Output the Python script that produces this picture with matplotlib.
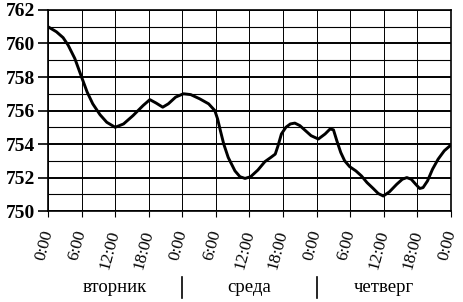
import matplotlib
matplotlib.use("Agg")
import matplotlib.pyplot as plt

# hours since tuesday 0:00 and pressure, mm Hg
hours = [0, 1.5, 2.7, 3.6, 4.8, 6, 7, 8, 9.3, 10.5, 12, 13.5, 15.2, 17,
         18.2, 19.3, 20.5, 21.5, 22.8, 24.2, 25.5, 27.1, 28.7, 29.8, 30.3,
         30.8, 31.4, 32.2, 33.4, 34.3, 35.2, 36.2, 37.5, 38.75, 39.8, 40.6,
         41.1, 41.7, 42.5, 43.3, 44.1, 45, 46, 47, 48.3, 49.5, 50.4, 51,
         51.6, 52.3, 53, 53.9, 55, 56, 57, 58.1, 59, 59.9, 61, 62.3, 63.3,
         64.1, 64.9, 65.7, 66.4, 67, 67.8, 68.7, 69.7, 70.8, 72]
pressure = [761.0, 760.7, 760.35, 759.9, 759.1, 758.0, 757.1, 756.4, 755.75,
            755.3, 755.0, 755.2, 755.7, 756.3, 756.65, 756.45, 756.2, 756.4,
            756.8, 757.0, 756.95, 756.7, 756.4, 756.0, 755.5, 754.8, 754.0,
            753.2, 752.4, 752.05, 751.95, 752.05, 752.45, 752.95, 753.2,
            753.4, 753.9, 754.6, 755.0, 755.2, 755.25, 755.1, 754.8, 754.5,
            754.3, 754.6, 754.9, 754.85, 754.2, 753.5, 753.0, 752.65, 752.4,
            752.1, 751.7, 751.35, 751.05, 750.9, 751.15, 751.6, 751.9, 752.0,
            751.9, 751.6, 751.35, 751.4, 751.8, 752.5, 753.1, 753.6, 753.95]

tick_hours = list(range(0, 73, 6))
tick_labels = ["0:00", "6:00", "12:00", "18:00"] * 3 + ["0:00"]
days = ["вторник", "среда", "четверг"]
day_centers = [12, 36, 60]
day_breaks = [24, 48]

plt.rcParams['font.family'] = ['Liberation Serif', 'DejaVu Serif']

fig = plt.figure(figsize=(4.64, 3.02), dpi=100)
ax = fig.add_axes([0.1034, 0.301, 0.8686, 0.666])

ax.set_xlim(0, 72)
ax.set_ylim(750, 762)

for v in range(750, 763):
    lw = 1.4 if v % 2 == 0 else 0.8
    ax.axhline(v, color="black", lw=lw, zorder=1)
for h in tick_hours:
    ax.axvline(h, color="black", lw=0.7, zorder=1)

ax.plot(hours, pressure, color="black", lw=2.1, solid_joinstyle="round",
        solid_capstyle="round", zorder=3)

ax.set_yticks(range(750, 763, 2))
ax.set_yticklabels([str(v) for v in range(750, 763, 2)], fontsize=14,
                   fontweight="bold")
ax.set_xticks(tick_hours)
ax.set_xticklabels(tick_labels, rotation=75, fontsize=12.5,
                   rotation_mode="anchor", ha="right", va="center")
ax.tick_params(axis="y", length=7, width=1.2, pad=2)
ax.tick_params(axis="x", length=4, width=0.8, pad=10)

for s in ax.spines.values():
    s.set_linewidth(1.2)

xt = ax.get_xaxis_transform()
for name, c in zip(days, day_centers):
    ax.text(c, -0.40, name, transform=xt, ha="center", va="baseline",
            fontsize=13.5)
for b in day_breaks:
    ax.plot([b, b], [-0.33, -0.43], transform=xt, color="black", lw=1.2,
            clip_on=False)

fig.savefig("out.png", dpi=100)
